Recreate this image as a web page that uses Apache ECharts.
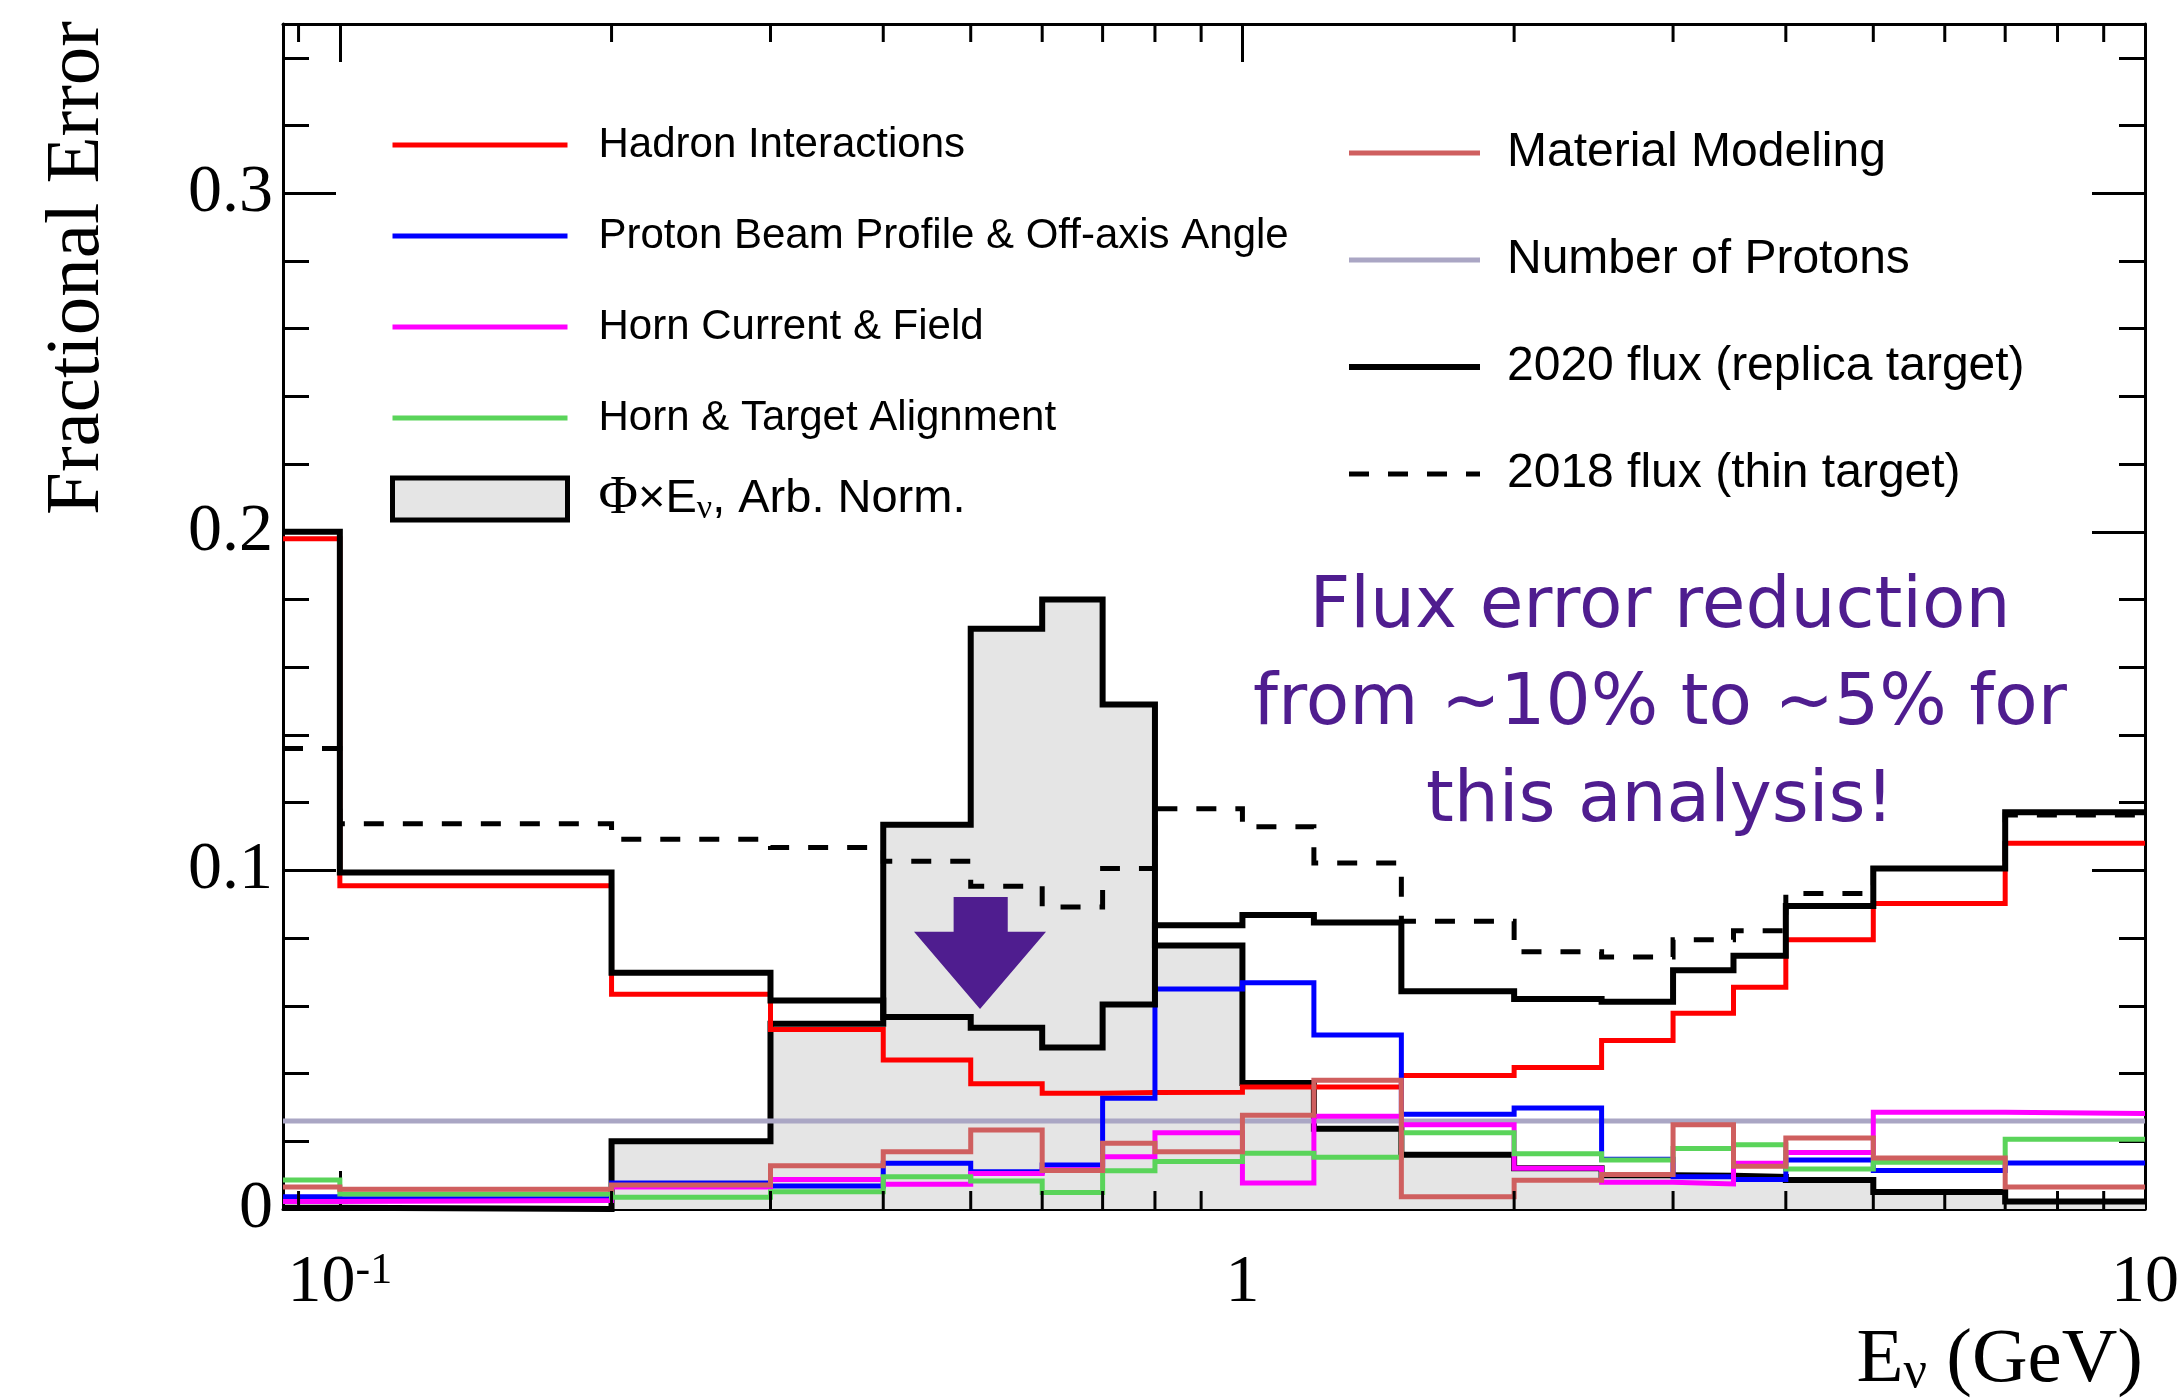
<!DOCTYPE html>
<html><head><meta charset="utf-8">
<script src="https://cdn.jsdelivr.net/npm/echarts@6/dist/echarts.min.js"></script>
<style>html,body{margin:0;padding:0;background:#fff;}#c{width:2182px;height:1398px;}</style>
</head><body><div id="c"></div>
<script>
// ---- data ----
const binEdges = [0.0865, 0.1, 0.2, 0.3, 0.4, 0.5, 0.6, 0.7, 0.8, 1.0, 1.2, 1.5, 2.0, 2.5, 3.0, 3.5, 4.0, 5.0, 7.0, 10];
const hadron      = [0.198, 0.0955, 0.0634, 0.053, 0.044, 0.037, 0.0342, 0.0344, 0.0345, 0.036, 0.036, 0.0394, 0.0418, 0.0498, 0.0578, 0.0655, 0.0795, 0.0902, 0.108];
const protonBeam  = [0.0036, 0.003, 0.0077, 0.0068, 0.0135, 0.011, 0.013, 0.0327, 0.065, 0.0668, 0.0514, 0.028, 0.0298, 0.0147, 0.0095, 0.0087, 0.0145, 0.0114, 0.0136];
const hornCurrent = [0.0022, 0.0025, 0.0065, 0.0087, 0.0073, 0.0105, 0.0116, 0.0154, 0.0225, 0.0077, 0.0274, 0.0249, 0.012, 0.0079, 0.0074, 0.0135, 0.0167, 0.0286, 0.0282];
const alignment   = [0.0086, 0.0044, 0.0035, 0.0051, 0.0095, 0.0083, 0.0049, 0.0113, 0.0140, 0.0165, 0.0153, 0.0225, 0.0163, 0.0145, 0.0179, 0.019, 0.0118, 0.0138, 0.0206];
const material    = [0.0065, 0.0058, 0.0071, 0.0128, 0.0169, 0.0233, 0.0114, 0.0194, 0.0169, 0.0277, 0.038, 0.0036, 0.0085, 0.0102, 0.0249, 0.0126, 0.021, 0.0151, 0.0065];
const numProtons  = [0.026, 0.026, 0.026, 0.026, 0.026, 0.026, 0.026, 0.026, 0.026, 0.026, 0.026, 0.026, 0.026, 0.026, 0.026, 0.026, 0.026, 0.026, 0.026];
const flux2020    = [0.2, 0.0994, 0.0698, 0.0616, 0.0567, 0.0535, 0.0477, 0.0604, 0.0838, 0.0868, 0.0846, 0.0643, 0.0620, 0.0612, 0.0705, 0.0748, 0.0895, 0.1006, 0.1172];
const flux2018    = [0.136, 0.1138, 0.1092, 0.1068, 0.1027, 0.0953, 0.0892, 0.1006, 0.1182, 0.1129, 0.1022, 0.085, 0.076, 0.0744, 0.0795, 0.0822, 0.0932, 0.1006, 0.1164];
const phiE        = [0.0004, 0.0, 0.0200, 0.0547, 0.1135, 0.1714, 0.180, 0.149, 0.0778, 0.0372, 0.0237, 0.016, 0.012, 0.010, 0.0098, 0.0095, 0.0086, 0.005, 0.0022];

const xMin = 0.0865, xMax = 10, yMin = 0, yMax = 0.35;
const xMajorTicks  = [0.1, 1, 10];
const xMajorLabels = ['{b|10}{sup|-1}', '{b|1}', '{b|10}'];
const xMinorTicks  = [0.09, 0.2, 0.3, 0.4, 0.5, 0.6, 0.7, 0.8, 0.9, 2, 3, 4, 5, 6, 7, 8, 9];
const arrowAt = [0.512, 0.0756];
const noteText = 'Flux error reduction\nfrom ~10% to ~5% for\nthis analysis!';

const N = {
  had: 'Hadron Interactions', beam: 'Proton Beam Profile & Off-axis Angle', horn: 'Horn Current & Field',
  align: 'Horn & Target Alignment', phi: 'Φ×Eν, Arb. Norm.', mat: 'Material Modeling',
  nop: 'Number of Protons', f20: '2020 flux (replica target)', f18: '2018 flux (thin target)'
};
const PURPLE = '#4f1d8f';
const SERIF = '"Liberation Serif","Times New Roman",serif';
const SANS = '"Liberation Sans",Arial,sans-serif';

function hist(vals) {
  const d = vals.map((v, i) => [binEdges[i], v]);
  d.push([binEdges[binEdges.length - 1], vals[vals.length - 1]]);
  return d;
}
function stepSeries(name, vals, color, width, extra) {
  return Object.assign({
    name, type: 'line', step: 'end', data: hist(vals), symbol: 'none', showSymbol: false,
    lineStyle: { color, width, join: 'miter', cap: 'butt' }, itemStyle: { color },
    silent: true, animation: false, z: 2
  }, extra || {});
}

const chart = echarts.init(document.getElementById('c'), null, { renderer: 'canvas' });
const tickStyle = { color: '#000', width: 3 };
chart.setOption({
  animation: false,
  backgroundColor: '#fff',
  grid: { left: 283, right: 35, top: 24, bottom: 189, containLabel: false },
  xAxis: [
    { type: 'log', logBase: 10, min: xMin, max: xMax, position: 'bottom',
      axisLine: { show: true, onZero: false, lineStyle: tickStyle },
      axisTick: { show: true, inside: true, length: 38, lineStyle: tickStyle },
      splitLine: { show: false },
      axisLabel: { show: true, margin: 40, showMinLabel: false,
        formatter: (v) => {
          for (let i = 0; i < xMajorTicks.length; i++) {
            if (Math.abs(Math.log10(v) - Math.log10(xMajorTicks[i])) < 1e-6) return xMajorLabels[i];
          }
          return '';
        },
        rich: {
          b: { fontFamily: SERIF, fontSize: 68, color: '#000' },
          sup: { fontFamily: SERIF, fontSize: 44, color: '#000', verticalAlign: 'top', padding: [0, 0, 0, 0] }
        }
      }
    },
    { type: 'log', logBase: 10, min: xMin, max: xMax, position: 'top',
      axisLine: { show: true, onZero: false, lineStyle: tickStyle },
      axisTick: { show: true, inside: true, length: 38, lineStyle: tickStyle },
      splitLine: { show: false }, axisLabel: { show: false }
    }
  ],
  yAxis: [
    { type: 'value', min: yMin, max: yMax, interval: 0.1, position: 'left',
      axisLine: { show: true, onZero: false, lineStyle: tickStyle },
      axisTick: { show: true, inside: true, length: 53, lineStyle: tickStyle },
      minorTick: { show: true, splitNumber: 5, length: 26, lineStyle: tickStyle },
      splitLine: { show: false },
      axisLabel: { show: true, margin: 10, showMaxLabel: false, fontFamily: SERIF, fontSize: 68, color: '#000' }
    },
    { type: 'value', min: yMin, max: yMax, interval: 0.1, position: 'right',
      axisLine: { show: true, onZero: false, lineStyle: tickStyle },
      axisTick: { show: true, inside: true, length: 53, lineStyle: tickStyle },
      minorTick: { show: true, splitNumber: 5, length: 26, lineStyle: tickStyle },
      splitLine: { show: false }, axisLabel: { show: false }
    }
  ],
  legend: [
    { orient: 'vertical', left: 390, top: 124, padding: 0, itemWidth: 175, itemHeight: 14, itemGap: 49,
      selectedMode: false, lineStyle: { width: 5 }, itemStyle: { opacity: 0 },
      textStyle: { fontFamily: SANS, fontSize: 42, lineHeight: 42, color: '#000', padding: [0, 0, 0, 26] },
      data: [N.had, N.beam, N.horn, N.align] },
    { orient: 'vertical', left: 390, top: 472, padding: 0, itemWidth: 175, itemHeight: 42, itemGap: 10,
      selectedMode: false,
      formatter: () => '{phi|Φ}{t|×E}{sub|ν}{t|, Arb. Norm.}',
      textStyle: { fontFamily: SANS, fontSize: 47, color: '#000', padding: [0, 0, 0, 26],
        rich: {
          phi: { fontFamily: SERIF, fontSize: 54, color: '#000' },
          t: { fontFamily: SANS, fontSize: 47, color: '#000' },
          sub: { fontFamily: SERIF, fontSize: 34, color: '#000', verticalAlign: 'bottom' }
        } },
      data: [{ name: N.phi, icon: 'rect', itemStyle: { color: '#e5e5e5', borderColor: '#000', borderWidth: 5 } }] },
    { orient: 'vertical', left: 1346, top: 129, padding: 0, itemWidth: 131, itemHeight: 14, itemGap: 59,
      selectedMode: false, lineStyle: { width: 5 }, itemStyle: { opacity: 0 },
      textStyle: { fontFamily: SANS, fontSize: 48, lineHeight: 48, color: '#000', padding: [0, 0, 0, 22] },
      data: [N.mat, N.nop, { name: N.f20, lineStyle: { width: 6 } }, { name: N.f18, lineStyle: { width: 5, type: [20, 19] } }] }
  ],
  graphic: [
    { type: 'text', x: 78, y: 21, rotation: Math.PI / 2, silent: true,
      style: { text: 'Fractional Error', font: '77px ' + SERIF, fill: '#000',
        align: 'right', verticalAlign: 'middle', textAlign: 'right', textVerticalAlign: 'middle' } },
    { type: 'text', x: 2143, y: 1361, silent: true,
      style: { text: '{n|E}{s|ν}{n| (GeV)}', fill: '#000',
        align: 'right', verticalAlign: 'middle', textAlign: 'right', textVerticalAlign: 'middle',
        rich: { n: { fontFamily: SERIF, fontSize: 77, fill: '#000', color: '#000' },
                s: { fontFamily: SERIF, fontSize: 52, fill: '#000', color: '#000', verticalAlign: 'bottom' } } } },
    { type: 'text', x: 1660, y: 706, silent: true,
      style: { text: noteText, font: '71px "DejaVu Sans",sans-serif', fill: PURPLE, lineHeight: 97,
        align: 'center', verticalAlign: 'middle', textAlign: 'center', textVerticalAlign: 'middle' } }
  ],
  series: [
    stepSeries(N.phi, phiE, '#000', 6, {
      areaStyle: { color: '#e5e5e5', opacity: 1 }, itemStyle: { color: '#e5e5e5' },
      markPoint: { silent: true, animation: false,
        symbol: 'path://M30,0 L71,0 L71,31 L100,31 L50,100 L0,31 L30,31 Z',
        symbolSize: [132, 112], label: { show: false }, itemStyle: { color: PURPLE },
        data: [{ coord: arrowAt }] }
    }),
    stepSeries(N.nop, numProtons, '#aaa6c4', 5),
    stepSeries(N.had, hadron, '#ff0000', 5),
    stepSeries(N.beam, protonBeam, '#0000ff', 5),
    stepSeries(N.horn, hornCurrent, '#ff00ff', 5),
    stepSeries(N.align, alignment, '#5ad45a', 5),
    stepSeries(N.mat, material, '#cf5f5f', 5),
    stepSeries(N.f20, flux2020, '#000000', 6),
    stepSeries(N.f18, flux2018, '#000000', 5, { lineStyle: { color: '#000', width: 5, type: [20, 19], join: 'miter', cap: 'butt' } }),
    { type: 'custom', name: 'xMinorTicks', silent: true, clip: false, z: 3, animation: false,
      data: xMinorTicks.map(v => [v, 0]), encode: { x: 0, y: 1 },
      renderItem: (params, api) => {
        const b = api.coord([api.value(0), yMin]);
        const t = api.coord([api.value(0), yMax]);
        return { type: 'group', children: [
          { type: 'line', shape: { x1: b[0], y1: b[1], x2: b[0], y2: b[1] - 18 }, style: { stroke: '#000', lineWidth: 3 } },
          { type: 'line', shape: { x1: t[0], y1: t[1], x2: t[0], y2: t[1] + 18 }, style: { stroke: '#000', lineWidth: 3 } }
        ] };
      } }
  ]
});
</script></body></html>
